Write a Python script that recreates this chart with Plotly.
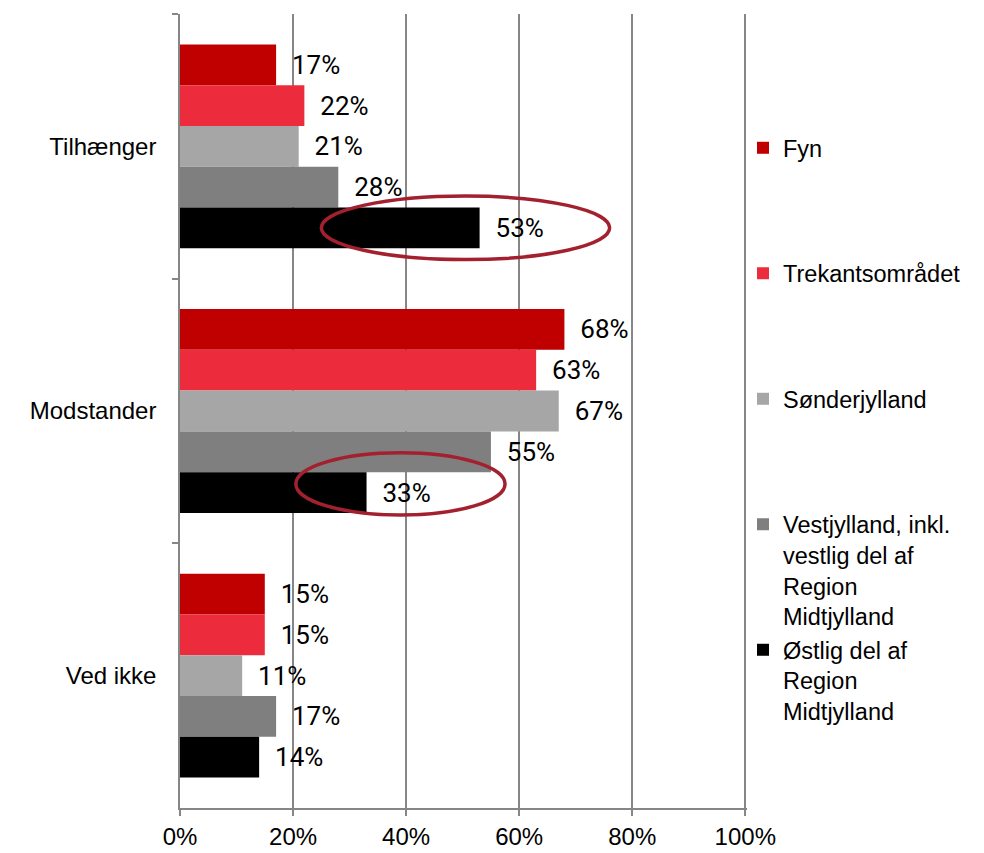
import plotly.graph_objects as go

categories = ["Tilhænger", "Modstander", "Ved ikke"]
series_names = [
    "Fyn",
    "Trekantsområdet",
    "Sønderjylland",
    "Vestjylland, inkl.<br>vestlig del af<br>Region<br>Midtjylland",
    "Østlig del af<br>Region<br>Midtjylland",
]
series_colors = ["#C00000", "#EC2C3C", "#A6A6A6", "#7F7F7F", "#000000"]
values = [
    [17, 68, 15],   # Fyn
    [22, 63, 15],   # Trekantsområdet
    [21, 67, 11],   # Sønderjylland
    [28, 55, 17],   # Vestjylland
    [53, 33, 14],   # Østlig del
]
x_tick_vals = [0, 20, 40, 60, 80, 100]
x_tick_text = ["0%", "20%", "40%", "60%", "80%", "100%"]

# highlighted bars (category index, series index) with ellipse extent relative to the bar value
highlights = [
    dict(cat=0, ser=4, dx=(-28, 23), dy=(-0.12, 0.12)),
    dict(cat=1, ser=4, dx=(-12.5, 24.5), dy=(-0.15, 0.085)),
]

BARGAP = 0.23
TEXT_FONT = dict(family="Roboto, sans-serif", size=26, color="#000000")
AXIS_FONT = dict(family="Liberation Sans, Arial, sans-serif", size=24, color="#000000")
LEGEND_FONT = dict(family="Liberation Sans, Arial, sans-serif", size=23.5, color="#000000")

fig = go.Figure()
n = len(series_names)
for i, (name, col, vals) in enumerate(zip(series_names, series_colors, values)):
    fig.add_trace(go.Bar(
        y=categories, x=vals, orientation="h", name=name,
        marker=dict(color=col, line=dict(width=0)),
        text=[f"\u00a0\u00a0{v}%" for v in vals],
        textposition="outside", textfont=TEXT_FONT, cliponaxis=False,
        legend="legend" if i == 0 else f"legend{i+1}",
    ))

# ellipses
groupw = 1 - BARGAP
barw = groupw / n
for h in highlights:
    v = values[h["ser"]][h["cat"]]
    yc = h["cat"] - groupw / 2 + (h["ser"] + 0.5) * barw
    fig.add_shape(type="circle", xref="x", yref="y",
                  x0=v + h["dx"][0], x1=v + h["dx"][1],
                  y0=yc + h["dy"][0], y1=yc + h["dy"][1],
                  line=dict(color="#A3212E", width=3.5), layer="above")

W, H = 984, 853
ML, MR, MT, MB = 180, 237, 14, 45
plot_h = H - MT - MB
plot_w = W - ML - MR

layout_legends = {}
first_line_px = [147, 272.5, 398, 523.5, 649]
for i, py in enumerate(first_line_px):
    key = "legend" if i == 0 else f"legend{i+1}"
    layout_legends[key] = dict(
        x=(743 - ML) / plot_w, xanchor="left",
        y=(H - MB - (py - 21)) / plot_h, yanchor="top",
        font=LEGEND_FONT, valign="top", bgcolor="rgba(0,0,0,0)",
        borderwidth=0,
    )

fig.update_layout(
    width=W, height=H,
    margin=dict(l=ML, r=MR, t=MT, b=MB, autoexpand=False),
    paper_bgcolor="white", plot_bgcolor="white",
    barmode="group", bargap=BARGAP, bargroupgap=0,
    showlegend=True,
    **layout_legends,
)
fig.update_xaxes(
    range=[0, 100.3], tickvals=x_tick_vals, ticktext=x_tick_text,
    showgrid=True, gridcolor="#868686", gridwidth=1.5,
    showline=True, linecolor="#868686", linewidth=1.5,
    ticks="outside", ticklen=6, tickcolor="#868686", tickwidth=1.5,
    tickfont=AXIS_FONT, zeroline=False, automargin=False,
)
fig.update_yaxes(
    categoryorder="array", categoryarray=categories, autorange="reversed",
    showline=True, linecolor="#868686", linewidth=1.5,
    ticks="outside", ticklen=6, tickcolor="#868686", tickwidth=1.5,
    tickson="boundaries", tickfont=AXIS_FONT, ticklabelstandoff=17,
    showgrid=False, automargin=False,
)

fig.write_html("out.html", config={"displayModeBar": False},
               post_script="document.body.style.margin='0px';")
